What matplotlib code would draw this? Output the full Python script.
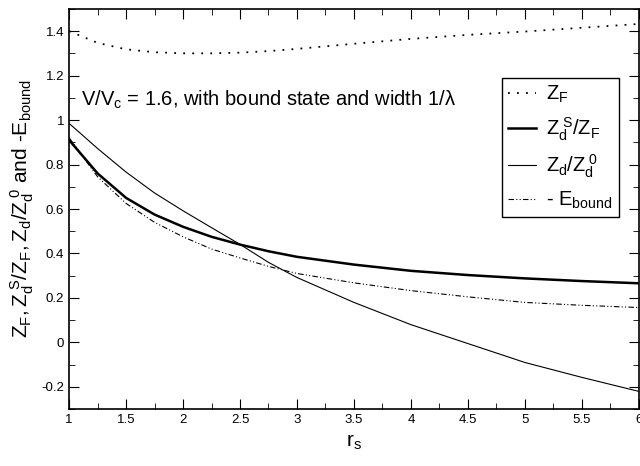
import matplotlib
matplotlib.use('Agg')
import matplotlib.pyplot as plt
from matplotlib.ticker import MultipleLocator, FuncFormatter

plt.rcParams['font.family'] = ['Liberation Sans', 'DejaVu Sans']
plt.rcParams['mathtext.fontset'] = 'custom'
plt.rcParams['mathtext.rm'] = 'Liberation Sans'
plt.rcParams['mathtext.it'] = 'Liberation Sans'
plt.rcParams['mathtext.default'] = 'regular'

# values
rs = [1, 1.25, 1.5, 1.75, 2, 2.25, 2.5, 2.75, 3, 3.5, 4, 4.5, 5, 5.5, 6]
z_f = [1.40, 1.347, 1.318, 1.305, 1.300, 1.300, 1.303, 1.310, 1.320,
       1.343, 1.365, 1.383, 1.398, 1.415, 1.432]
zd_s_over_zf = [0.91, 0.76, 0.65, 0.575, 0.52, 0.475, 0.44, 0.41, 0.385,
                0.35, 0.322, 0.303, 0.288, 0.276, 0.266]
zd_over_zd0 = [0.985, 0.872, 0.766, 0.672, 0.592, 0.516, 0.441, 0.36, 0.292,
               0.18, 0.08, -0.005, -0.09, -0.157, -0.22]
e_bound = [0.92, 0.745, 0.625, 0.54, 0.475, 0.42, 0.38, 0.342, 0.31,
           0.268, 0.233, 0.205, 0.18, 0.167, 0.157]

fig = plt.figure(figsize=(6.4, 4.66), dpi=100)
ax = fig.add_axes([0.108, 0.122, 0.890, 0.859])

ax.plot(rs, z_f, color='black', linestyle=(0, (1, 4)), linewidth=1.3, label='$Z_F$')
ax.plot(rs, zd_s_over_zf, color='black', linewidth=1.8, label='$Z_d^{\\ S}/Z_F$')
ax.plot(rs, zd_over_zd0, color='black', linewidth=0.8, label='$Z_d/Z_d^{\\ 0}$')
ax.plot(rs, e_bound, color='black', linewidth=0.8,
        dashes=(5, 2, 1, 2, 1, 2), label='- $E_{bound}$')

ax.set_xlim(1, 6)
ax.set_ylim(-0.3, 1.5)
ax.xaxis.set_major_locator(MultipleLocator(0.5))
ax.xaxis.set_minor_locator(MultipleLocator(0.25))
ax.yaxis.set_major_locator(MultipleLocator(0.2))
ax.yaxis.set_minor_locator(MultipleLocator(0.1))
fmt = FuncFormatter(lambda v, p: '%g' % round(v, 2))
ax.xaxis.set_major_formatter(fmt)
ax.yaxis.set_major_formatter(fmt)
ax.tick_params(which='both', direction='in', top=True, right=True, labelsize=9.5)
ax.tick_params(which='major', length=7)
ax.tick_params(which='minor', length=4)
for s in ax.spines.values():
    s.set_linewidth(1.2)

ax.set_xlabel('$r_s$', fontsize=15, labelpad=5)
ax.set_ylabel('$Z_F, Z_d^{\\ S}/Z_F, Z_d/Z_d^{\\ 0}$ and -$E_{bound}$', fontsize=15, labelpad=4)

ax.text(1.1, 1.09, '$V/V_c$ = 1.6, with bound state and width 1/$\\lambda$',
        fontsize=14.5, va='center')

leg = ax.legend(loc='upper left', bbox_to_anchor=(0.76, 0.828), borderaxespad=0,
                fontsize=14.5, handlelength=1.4, handletextpad=0.5,
                labelspacing=0.5, borderpad=0.3, fancybox=False, framealpha=1)
leg.get_frame().set_edgecolor('black')
leg.get_frame().set_linewidth(1.0)

fig.savefig('out.png', dpi=100)
